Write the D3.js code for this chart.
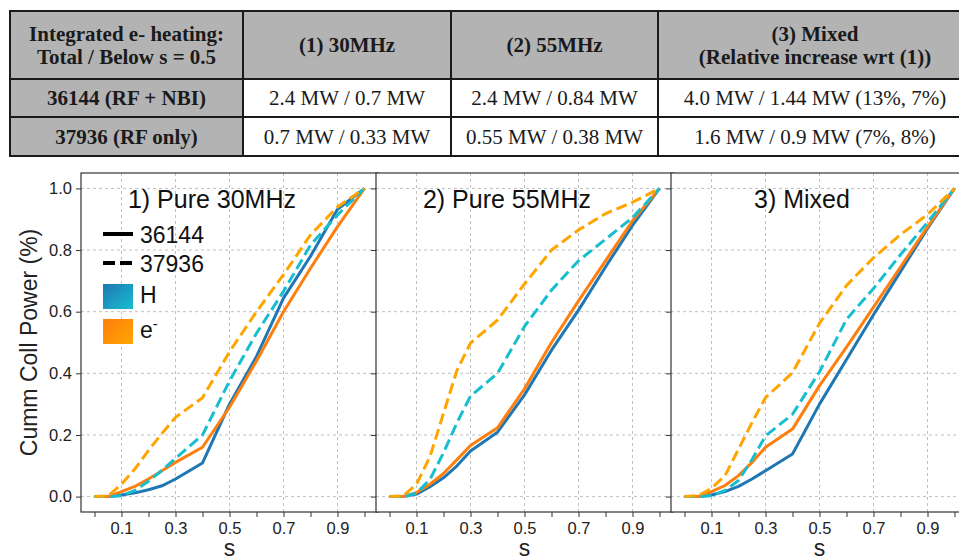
<!DOCTYPE html>
<html>
<head>
<meta charset="utf-8">
<script src="https://cdn.jsdelivr.net/npm/d3@7"></script>
<style>
  body { margin: 0; background: #fff; }
  svg { display: block; }
</style>
</head>
<body>
<div id="chart"></div>
<script>
// Table text
var tableHeader = [
    ["Integrated e- heating:", "Total / Below s = 0.5"],
    ["(1) 30MHz"],
    ["(2) 55MHz"],
    ["(3) Mixed", "(Relative increase wrt (1))"]
];
var tableRows = [
    ["36144 (RF + NBI)", "2.4 MW / 0.7 MW", "2.4 MW / 0.84 MW", "4.0 MW / 1.44 MW (13%, 7%)"],
    ["37936 (RF only)", "0.7 MW / 0.33 MW", "0.55 MW / 0.38 MW", "1.6 MW / 0.9 MW (7%, 8%)"]
];

// Radial grid s
var sGrid = [0, 0.05, 0.1, 0.15, 0.2, 0.25, 0.3, 0.4, 0.5, 0.6, 0.7, 0.8, 0.9, 1.0];

// 1) Pure 30MHz
var h36144_30 = [0, 0, 0.005, 0.012, 0.022, 0.035, 0.057, 0.109, 0.30, 0.455, 0.644, 0.78, 0.932, 1];
var e36144_30 = [0, 0, 0.016, 0.033, 0.057, 0.084, 0.111, 0.16, 0.29, 0.44, 0.60, 0.741, 0.876, 1];
var h37936_30 = [0, 0, 0.003, 0.02, 0.05, 0.085, 0.124, 0.2, 0.375, 0.53, 0.666, 0.816, 0.914, 1];
var e37936_30 = [0, 0.002, 0.04, 0.09, 0.15, 0.205, 0.257, 0.321, 0.47, 0.6, 0.72, 0.849, 0.94, 1];

// 2) Pure 55MHz
var h36144_55 = [0, 0, 0.008, 0.032, 0.061, 0.1, 0.148, 0.209, 0.33, 0.475, 0.605, 0.745, 0.88, 1];
var e36144_55 = [0, 0, 0.013, 0.04, 0.075, 0.12, 0.166, 0.223, 0.35, 0.5, 0.635, 0.765, 0.895, 1];
var h37936_55 = [0, 0, 0.011, 0.056, 0.142, 0.24, 0.326, 0.40, 0.552, 0.67, 0.765, 0.835, 0.905, 1];
var e37936_55 = [0, 0.002, 0.04, 0.13, 0.27, 0.41, 0.498, 0.573, 0.69, 0.80, 0.865, 0.918, 0.955, 1];

// 3) Mixed
var h36144_mix = [0, 0, 0.005, 0.016, 0.033, 0.057, 0.084, 0.138, 0.30, 0.445, 0.59, 0.73, 0.87, 1];
var e36144_mix = [0, 0, 0.016, 0.036, 0.068, 0.111, 0.16, 0.219, 0.36, 0.485, 0.615, 0.745, 0.875, 1];
var h37936_mix = [0, 0, 0.003, 0.02, 0.052, 0.12, 0.197, 0.267, 0.405, 0.575, 0.675, 0.785, 0.89, 1];
var e37936_mix = [0, 0.003, 0.027, 0.068, 0.154, 0.24, 0.321, 0.402, 0.5625, 0.685, 0.775, 0.85, 0.915, 1];

var panelTitles = ["1) Pure 30MHz", "2) Pure 55MHz", "3) Mixed"];
var xTicks = [0, 0.1, 0.2, 0.3, 0.4, 0.5, 0.6, 0.7, 0.8, 0.9, 1.0];
var xTickLabels = [0.1, 0.3, 0.5, 0.7, 0.9];
var yTicks = [0, 0.2, 0.4, 0.6, 0.8, 1.0];
var legendShots = ["36144", "37936"];
var legendSpecies = ["H", "e"];

var panelData = [
    [h36144_30, e36144_30, h37936_30, e37936_30],
    [h36144_55, e36144_55, h37936_55, e37936_55],
    [h36144_mix, e36144_mix, h37936_mix, e37936_mix]
];

var W = 959, H = 557;

var svg = d3.select("#chart").append("svg")
    .attr("width", W)
    .attr("height", H);

// ---------- Table ----------
var colX = [10, 243, 451, 658, 972];
var rowY = [11, 79, 117, 156];
var gray = "#b3b3b3";
var serif = "'Liberation Serif', 'Times New Roman', serif";

var table = svg.append("g");

var allRows = [tableHeader].concat(tableRows);
allRows.forEach(function(row, r) {
    row.forEach(function(cell, c) {
        table.append("rect")
            .attr("x", colX[c]).attr("y", rowY[r])
            .attr("width", colX[c + 1] - colX[c])
            .attr("height", rowY[r + 1] - rowY[r])
            .attr("fill", (r == 0 || c == 0) ? gray : "#fff");

        var lines = Array.isArray(cell) ? cell : [cell];
        var cx = (colX[c] + colX[c + 1]) / 2;
        var cy = (rowY[r] + rowY[r + 1]) / 2;
        var lh = 23;
        lines.forEach(function(t, i) {
            table.append("text")
                .attr("x", cx)
                .attr("y", cy + (i - (lines.length - 1) / 2) * lh + 7)
                .attr("text-anchor", "middle")
                .attr("font-family", serif)
                .attr("font-size", 21)
                .attr("font-weight", (r == 0 || c == 0) ? "bold" : "normal")
                .attr("fill", "#1a1a1a")
                .text(t);
        });
    });
});

rowY.forEach(function(y) {
    table.append("line")
        .attr("x1", colX[0] - 1).attr("x2", colX[4])
        .attr("y1", y).attr("y2", y)
        .attr("stroke", "#1a1a1a").attr("stroke-width", 2);
});
colX.forEach(function(x) {
    table.append("line")
        .attr("x1", x).attr("x2", x)
        .attr("y1", rowY[0]).attr("y2", rowY[3])
        .attr("stroke", "#1a1a1a").attr("stroke-width", 2);
});

// ---------- Panels ----------
var sans = "'Liberation Sans', Arial, sans-serif";
var plotTop = 173, plotBottom = 512, pw = 297;
var lefts = [81, 376, 671];

var styles = [
    {color: "#1f77b4", dash: null},
    {color: "#ff7f0e", dash: null},
    {color: "#17becf", dash: "11,5"},
    {color: "#ffa500", dash: "11,5"}
];

var defs = svg.append("defs");
function grad(id, c1, c2) {
    var g = defs.append("linearGradient").attr("id", id)
        .attr("x1", 0).attr("y1", 0).attr("x2", 1).attr("y2", 1);
    g.append("stop").attr("offset", "0%").attr("stop-color", c1);
    g.append("stop").attr("offset", "100%").attr("stop-color", c2);
}
grad("gradH", "#1f77b4", "#17becf");
grad("gradE", "#ff7f0e", "#ffa500");

var yScale = d3.scaleLinear().domain([-0.05, 1.05]).range([plotBottom, plotTop]);

panelData.forEach(function(series, p) {
    var left = lefts[p];
    var xScale = d3.scaleLinear().domain([-0.05, 1.05]).range([left, left + pw]);

    var g = svg.append("g");

    g.append("rect")
        .attr("x", left).attr("y", plotTop)
        .attr("width", pw).attr("height", plotBottom - plotTop)
        .attr("fill", "#fff");

    // grid
    g.selectAll(".vgrid").data(xTickLabels).enter().append("line")
        .attr("x1", function(d) { return xScale(d); })
        .attr("x2", function(d) { return xScale(d); })
        .attr("y1", plotTop).attr("y2", plotBottom)
        .attr("stroke", "#b0b0b0").attr("stroke-width", 0.8)
        .attr("stroke-dasharray", "3,3");
    g.selectAll(".hgrid").data(yTicks).enter().append("line")
        .attr("x1", left).attr("x2", left + pw)
        .attr("y1", function(d) { return yScale(d); })
        .attr("y2", function(d) { return yScale(d); })
        .attr("stroke", "#b0b0b0").attr("stroke-width", 0.8)
        .attr("stroke-dasharray", "3,3");

    // axes
    var xAxis = d3.axisBottom(xScale)
        .tickValues(xTicks)
        .tickSize(5).tickPadding(5)
        .tickFormat(function(d) {
            return xTickLabels.some(function(v) { return Math.abs(v - d) < 1e-9; }) ? d3.format(".1f")(d) : "";
        });
    var gx = g.append("g")
        .attr("transform", "translate(0," + plotBottom + ")")
        .call(xAxis);

    var yAxis = d3.axisLeft(yScale)
        .tickValues(yTicks)
        .tickSize(5).tickPadding(4)
        .tickFormat(p == 0 ? d3.format(".1f") : function() { return ""; });
    var gy = g.append("g")
        .attr("transform", "translate(" + left + ",0)")
        .call(yAxis);

    [gx, gy].forEach(function(a) {
        a.select(".domain").remove();
        a.selectAll(".tick line").attr("stroke", "#333").attr("stroke-width", 1);
        a.selectAll(".tick text")
            .attr("font-family", sans).attr("font-size", 16.5).attr("fill", "#222");
    });

    // data lines
    series.forEach(function(vals, i) {
        var pts = sGrid.map(function(s, k) { return [s, vals[k]]; });
        var line = d3.line()
            .x(function(d) { return xScale(d[0]); })
            .y(function(d) { return yScale(d[1]); });
        g.append("path")
            .datum(pts)
            .attr("d", line)
            .attr("fill", "none")
            .attr("stroke", styles[i].color)
            .attr("stroke-width", 3)
            .attr("stroke-linejoin", "round")
            .attr("stroke-dasharray", styles[i].dash);
    });

    // frame
    g.append("rect")
        .attr("x", left).attr("y", plotTop)
        .attr("width", pw).attr("height", plotBottom - plotTop)
        .attr("fill", "none")
        .attr("stroke", "#333").attr("stroke-width", 1.2);

    // title
    g.append("text")
        .attr("x", xScale(0.435))
        .attr("y", 208)
        .attr("text-anchor", "middle")
        .attr("font-family", sans)
        .attr("font-size", 25)
        .attr("fill", "#111")
        .text(panelTitles[p]);

    // x label
    g.append("text")
        .attr("x", xScale(0.5))
        .attr("y", 556)
        .attr("text-anchor", "middle")
        .attr("font-family", sans)
        .attr("font-size", 23)
        .attr("fill", "#222")
        .text("s");

    // legend in first panel
    if (p == 0) {
        var lg = g.append("g");
        var lx = 103, lw = 30;
        legendShots.forEach(function(t, i) {
            var y = 234 + i * 29;
            lg.append("line")
                .attr("x1", lx).attr("x2", lx + lw)
                .attr("y1", y).attr("y2", y)
                .attr("stroke", "#000").attr("stroke-width", 4)
                .attr("stroke-dasharray", i == 0 ? null : "12,5");
            lg.append("text")
                .attr("x", 140).attr("y", y + 9)
                .attr("font-family", sans).attr("font-size", 23)
                .attr("fill", "#111")
                .text(t);
        });
        legendSpecies.forEach(function(t, i) {
            var y = 284 + i * 35;
            lg.append("rect")
                .attr("x", lx).attr("y", y)
                .attr("width", lw).attr("height", 25)
                .attr("fill", i == 0 ? "url(#gradH)" : "url(#gradE)");
            var tx = lg.append("text")
                .attr("x", 140).attr("y", y + 19)
                .attr("font-family", sans).attr("font-size", 23)
                .attr("fill", "#111")
                .text(t);
            if (t == "e") {
                tx.append("tspan")
                    .attr("dy", -9)
                    .attr("font-size", 15)
                    .text("-");
            }
        });
    }
});

// y label
svg.append("text")
    .attr("transform", "translate(37," + (plotTop + plotBottom) / 2 + ") rotate(-90)")
    .attr("text-anchor", "middle")
    .attr("font-family", sans)
    .attr("font-size", 23)
    .attr("fill", "#222")
    .text("Cumm Coll Power (%)");
</script>
</body>
</html>
